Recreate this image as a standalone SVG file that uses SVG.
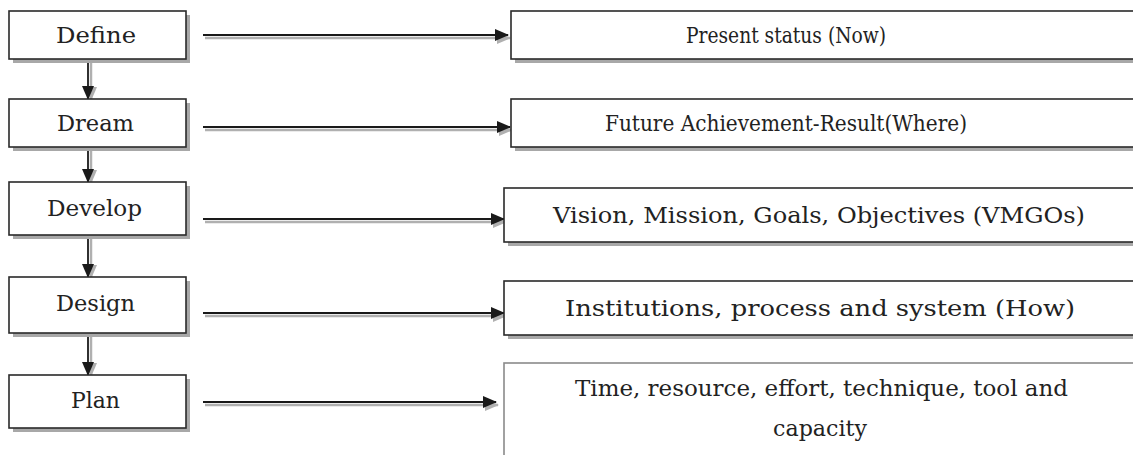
<svg xmlns="http://www.w3.org/2000/svg" width="1133" height="455" viewBox="0 0 1133 455">
<style>
.bx{fill:#fff;stroke:#2a2a2a;stroke-width:1.6}
.sh{fill:#a8a8a8}
.t{font-family:'DejaVu Serif','Liberation Serif','Times New Roman',serif;font-size:22px;fill:#222}
.ln{stroke:#1a1a1a;stroke-width:1.8;fill:none}
.lsh{stroke:#b0b0b0;stroke-width:2.5;fill:none}
</style>
<defs>
<marker id="ah" markerWidth="14" markerHeight="12" refX="13" refY="6" orient="auto" markerUnits="userSpaceOnUse">
<path d="M0,0 L14,6 L0,12 z" fill="#1a1a1a"/>
</marker>
<marker id="ahs" markerWidth="14" markerHeight="12" refX="13" refY="6" orient="auto" markerUnits="userSpaceOnUse">
<path d="M0,0 L14,6 L0,12 z" fill="#b0b0b0"/>
</marker>
</defs>
<rect width="1133" height="455" fill="#fff"/>
<g id="connectors">
<line class="lsh" x1="205" y1="38" x2="510" y2="38" marker-end="url(#ahs)"/>
<line class="ln" x1="203" y1="35" x2="508" y2="35" marker-end="url(#ah)"/>
<line class="lsh" x1="205" y1="130" x2="512" y2="130" marker-end="url(#ahs)"/>
<line class="ln" x1="203" y1="127" x2="510" y2="127" marker-end="url(#ah)"/>
<line class="lsh" x1="205" y1="222" x2="506" y2="222" marker-end="url(#ahs)"/>
<line class="ln" x1="203" y1="219" x2="504" y2="219" marker-end="url(#ah)"/>
<line class="lsh" x1="205" y1="316" x2="506" y2="316" marker-end="url(#ahs)"/>
<line class="ln" x1="203" y1="313" x2="504" y2="313" marker-end="url(#ah)"/>
<line class="lsh" x1="205" y1="405" x2="498" y2="405" marker-end="url(#ahs)"/>
<line class="ln" x1="203" y1="402" x2="496" y2="402" marker-end="url(#ah)"/>
<line class="lsh" x1="91" y1="60" x2="91" y2="100" marker-end="url(#ahs)"/>
<line class="ln" x1="88" y1="60" x2="88" y2="99" marker-end="url(#ah)"/>
<line class="lsh" x1="91" y1="148" x2="91" y2="183" marker-end="url(#ahs)"/>
<line class="ln" x1="88" y1="148" x2="88" y2="182" marker-end="url(#ah)"/>
<line class="lsh" x1="91" y1="236" x2="91" y2="278" marker-end="url(#ahs)"/>
<line class="ln" x1="88" y1="236" x2="88" y2="277" marker-end="url(#ah)"/>
<line class="lsh" x1="91" y1="334" x2="91" y2="376" marker-end="url(#ahs)"/>
<line class="ln" x1="88" y1="334" x2="88" y2="375" marker-end="url(#ah)"/>
</g>
<g id="define"><rect class="sh" x="13" y="15" width="177" height="48"/><rect class="bx" x="9" y="11" width="177" height="48"/><text class="t" x="56" y="43" textLength="80" lengthAdjust="spacingAndGlyphs">Define</text></g>
<g id="dream"><rect class="sh" x="13" y="103" width="177" height="48"/><rect class="bx" x="9" y="99" width="177" height="48"/><text class="t" x="57" y="131" textLength="77" lengthAdjust="spacingAndGlyphs">Dream</text></g>
<g id="develop"><rect class="sh" x="13" y="186" width="177" height="53"/><rect class="bx" x="9" y="182" width="177" height="53"/><text class="t" x="47" y="216" textLength="95" lengthAdjust="spacingAndGlyphs">Develop</text></g>
<g id="design"><rect class="sh" x="13" y="281" width="177" height="56"/><rect class="bx" x="9" y="277" width="177" height="56"/><text class="t" x="56" y="311" textLength="79" lengthAdjust="spacingAndGlyphs">Design</text></g>
<g id="plan"><rect class="sh" x="13" y="379" width="177" height="53"/><rect class="bx" x="9" y="375" width="177" height="53"/><text class="t" x="71" y="408" textLength="49" lengthAdjust="spacingAndGlyphs">Plan</text></g>
<g id="present"><rect class="sh" x="515" y="15" width="630" height="48"/><rect class="bx" x="511" y="11" width="630" height="48"/><text class="t" x="686" y="43" textLength="200" lengthAdjust="spacingAndGlyphs">Present status (Now)</text></g>
<g id="future"><rect class="sh" x="515" y="103" width="630" height="48"/><rect class="bx" x="511" y="99" width="630" height="48"/><text class="t" x="605" y="131" textLength="362" lengthAdjust="spacingAndGlyphs">Future Achievement-Result(Where)</text></g>
<g id="vmgo"><rect class="sh" x="508" y="192" width="640" height="54"/><rect class="bx" x="504" y="188" width="640" height="54"/><text class="t" x="553" y="223" textLength="532" lengthAdjust="spacingAndGlyphs">Vision, Mission, Goals, Objectives (VMGOs)</text></g>
<g id="how"><rect class="sh" x="508" y="285" width="640" height="54"/><rect class="bx" x="504" y="281" width="640" height="54"/><text class="t" x="565" y="316" textLength="510" lengthAdjust="spacingAndGlyphs">Institutions, process and system (How)</text></g>
<g id="time"><rect class="bx" x="504" y="363" width="640" height="100" style="stroke:#8a8a8a"/><text class="t" x="575" y="396" textLength="493" lengthAdjust="spacingAndGlyphs">Time, resource, effort, technique, tool and</text><text class="t" x="773" y="436" textLength="94" lengthAdjust="spacingAndGlyphs">capacity</text></g>
</svg>
